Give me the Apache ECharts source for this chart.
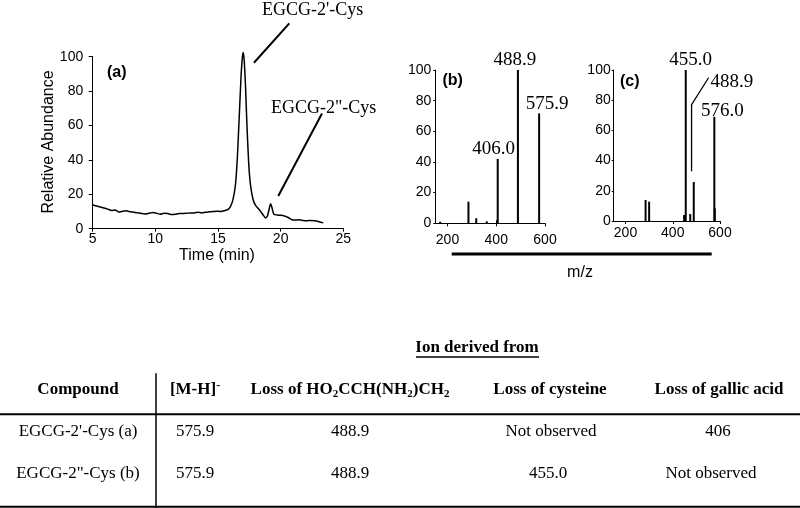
<!DOCTYPE html>
<html><head><meta charset="utf-8">
<script src="https://cdn.jsdelivr.net/npm/echarts@6/dist/echarts.min.js"></script>
<style>html,body{margin:0;padding:0;background:#fff}#c{width:800px;height:508px}</style>
</head><body><div id="c"></div>
<script>
// ---- Data ----
const chromTime  = [5.0,5.3,5.6,5.9,6.2,6.5,6.8,7.1,7.4,7.7,8.0,8.3,8.6,8.9,9.2,9.5,9.8,10.1,10.4,10.7,11.0,11.3,11.6,11.9,12.2,12.5,12.8,13.1,13.4,13.7,14.0,14.3,14.6,14.9,15.2,15.5,15.8,16.0,16.2,16.4,16.55,16.7,16.85,16.95,17.02,17.1,17.2,17.3,17.45,17.6,17.8,18.0,18.3,18.6,18.8,18.95,19.1,19.2,19.3,19.45,19.7,20.0,20.3,20.6,20.9,21.2,21.5,21.8,22.1,22.4,22.7,23.0,23.4];
const chromAbund = [13.8,13.2,12.6,12.0,11.4,10.6,10.8,9.6,10.2,10.4,9.8,9.6,9.2,8.8,8.6,9.0,9.4,9.0,8.4,9.0,8.8,8.2,8.4,8.8,8.8,9.0,9.2,9.2,9.6,9.2,9.6,9.8,10.0,10.2,10.0,10.4,11.2,13.0,17.0,26.0,42.0,66.0,90.0,100.0,102.5,97.0,82.0,62.0,38.0,25.0,17.0,13.5,11.0,8.0,6.2,7.5,12.0,14.5,12.5,8.5,8.0,7.8,7.4,6.5,5.2,5.0,5.2,4.8,4.6,4.8,4.6,4.2,3.4];

const specB_mz  = [170, 286, 318, 361, 403, 406.0, 488.9, 575.9];
const specB_int = [1, 14.1, 3.3, 1.3, 2, 42, 100, 71.7];
const specB_lab = ['', '', '', '', '', '406.0', '488.9', '575.9'];

const specC_mz  = [285, 300, 448, 455.0, 474, 488.9, 576.0, 578];
const specC_int = [13.9, 12.8, 4, 100, 4.6, 25.8, 69, 8.4];
const specC_lab = ['', '', '', '455.0', '', '', '576.0', ''];
const specC_leaderLabel = '488.9';

const mzTicks = [200, 400, 600];

const tableTitle = 'Ion derived from';
const tableHeaders = ['Compound', '[M-H]{sup|-}', 'Loss of HO{sub|2}CCH(NH{sub|2})CH{sub|2}', 'Loss of cysteine', 'Loss of gallic acid'];
const tableRows = [
  ["EGCG-2'-Cys (a)", '575.9', '488.9', 'Not observed', '406'],
  ['EGCG-2"-Cys (b)', '575.9', '488.9', '455.0', 'Not observed']
];

// ---- Styling ----
const sans = 'Liberation Sans', serif = 'Liberation Serif';
const labelOffsetB = {'406.0': [-4, 0, 0], '488.9': [-3, 0, 0], '575.9': [8, 0, 0]};
const labelOffsetC = {'455.0': [5, 0, 0], '576.0': [8, 0, -4]};

function axisBase(extra) {
  const base = {
    type: 'value',
    axisLine: {show: true, onZero: false, lineStyle: {color: '#000', width: 1}},
    axisTick: {show: true, lineStyle: {color: '#000', width: 1}},
    splitLine: {show: false},
    axisLabel: {color: '#000', fontFamily: sans, fontSize: 14}
  };
  for (const k in extra) {
    if (typeof extra[k] === 'object' && base[k]) base[k] = Object.assign({}, base[k], extra[k]);
    else base[k] = extra[k];
  }
  return base;
}

function barData(mz, inten, labs, offs) {
  return mz.map((m, i) => {
    const item = {value: [m, inten[i]]};
    if (labs[i]) {
      const o = offs[labs[i]] || [0, 0, 0];
      item.label = {show: true, position: 'top', formatter: labs[i], distance: o[2],
        offset: [o[0], o[1]], fontFamily: serif, fontSize: 19, color: '#000'};
    }
    return item;
  });
}

const chart = echarts.init(document.getElementById('c'), null, {renderer: 'canvas'});

const option = {
  backgroundColor: '#fff',
  animation: false,
  grid: [
    {left: 92.7, top: 56.7, width: 250.6, height: 172},
    {left: 435.3, top: 70, width: 109.7, height: 153.3},
    {left: 613.7, top: 70, width: 106.3, height: 151}
  ],
  xAxis: [
    axisBase({gridIndex: 0, min: 5, max: 25, interval: 5, axisTick: {length: 3}, axisLabel: {margin: 3}}),
    axisBase({gridIndex: 1, min: 150, max: 600, axisTick: {customValues: mzTicks, length: 3}, axisLabel: {customValues: mzTicks, margin: 10}}),
    axisBase({gridIndex: 2, min: 150, max: 600, axisTick: {customValues: mzTicks, length: 3}, axisLabel: {customValues: mzTicks, margin: 5}})
  ],
  yAxis: [
    axisBase({gridIndex: 0, min: 0, max: 100, interval: 20, axisTick: {length: 4}, axisLabel: {margin: 9.5}}),
    axisBase({gridIndex: 1, min: 0, max: 100, interval: 20, axisTick: {length: 2}, axisLabel: {margin: 4}}),
    axisBase({gridIndex: 2, min: 0, max: 100, interval: 20, axisTick: {length: 2}, axisLabel: {margin: 3}})
  ],
  series: [
    {type: 'line', xAxisIndex: 0, yAxisIndex: 0, data: chromTime.map((t, i) => [t, chromAbund[i]]),
      showSymbol: false, symbol: 'none', clip: false, smooth: 0.2,
      lineStyle: {color: '#000', width: 1.5}},
    {type: 'bar', xAxisIndex: 1, yAxisIndex: 1, barWidth: 2, itemStyle: {color: '#000'},
      data: barData(specB_mz, specB_int, specB_lab, labelOffsetB)},
    {type: 'bar', xAxisIndex: 2, yAxisIndex: 2, barWidth: 2, itemStyle: {color: '#000'},
      data: barData(specC_mz, specC_int, specC_lab, labelOffsetC)}
  ]
};
chart.setOption(option);

function txt(x, y, text, font, align, extra) {
  const el = {type: 'text', x: x, y: y, silent: true,
    style: Object.assign({text: text, font: font, fill: '#000',
      textAlign: align || 'center', textVerticalAlign: 'middle',
      align: align || 'center', verticalAlign: 'middle'}, extra || {})};
  return el;
}
function line(x1, y1, x2, y2, w) {
  return {type: 'line', silent: true, shape: {x1, y1, x2, y2}, style: {stroke: '#000', lineWidth: w || 1.5}};
}

const g = [];
// Panel labels
g.push(txt(107, 72.5, '(a)', 'bold 16px ' + sans, 'left'));
g.push(txt(442.5, 81, '(b)', 'bold 16px ' + sans, 'left'));
g.push(txt(620, 82, '(c)', 'bold 16px ' + sans, 'left'));
// Axis titles
g.push(Object.assign(txt(49, 142, 'Relative Abundance', '16px ' + sans, 'center'), {rotation: Math.PI / 2}));
g.push(txt(217, 256, 'Time (min)', '16px ' + sans, 'center'));
g.push(txt(580, 273, 'm/z', '16px ' + sans, 'center'));
g.push(line(451.7, 254, 711.7, 254, 3));

// Peak annotations in (a)
const p = (gi, v) => chart.convertToPixel({gridIndex: gi}, v);
let a1 = p(0, [17.87, 96.5]), a2 = p(0, [20.69, 119.4]);
g.push(line(a1[0], a1[1], a2[0], a2[1], 2));
g.push(txt(262, 10, "EGCG-2'-Cys", '18px ' + serif, 'left'));
let b1 = p(0, [19.81, 19]), b2 = p(0, [23.3, 67]);
g.push(line(b1[0], b1[1], b2[0], b2[1], 2));
g.push(txt(271, 108, 'EGCG-2"-Cys', '18px ' + serif, 'left'));

// Leader line for 488.9 in (c)
const c0 = p(2, [488.9, 33]), c1 = p(2, [488.9, 77]);
const cx = c0[0] - 2.2;
g.push({type: 'polyline', silent: true, shape: {points: [[cx, c0[1]], [cx, c1[1]], [cx + 17, c1[1] - 27]]},
  style: {stroke: '#000', lineWidth: 1.3, fill: null}});
g.push(txt(cx + 19, 82.5, specC_leaderLabel, '19px ' + serif, 'left'));

// Table
const colX = [78, 195, 350, 550, 719];
const rowY = [431.7, 473.3];
const rowColX = [[78, 195, 350, 551, 718], [78, 195, 350, 548, 711]];
g.push(txt(477, 348, tableTitle, 'bold 17px ' + serif, 'center'));
g.push(line(416, 357, 539, 357, 1.5));
const rich = {
  sub: {fontSize: 11, fontWeight: 'bold', fontFamily: serif, lineHeight: 10, verticalAlign: 'bottom'},
  sup: {fontSize: 12, fontWeight: 'bold', fontFamily: serif, lineHeight: 10, verticalAlign: 'top'}
};
tableHeaders.forEach((h, i) => {
  g.push(txt(colX[i], 390, h, 'bold 17px ' + serif, 'center', {rich: rich, lineHeight: 20}));
});
g.push(line(0, 414.3, 800, 414.3, 2));
tableRows.forEach((r, ri) => {
  r.forEach((c, ci) => g.push(txt(rowColX[ri][ci], rowY[ri], c, '17px ' + serif, 'center')));
});
g.push(line(0, 506.8, 800, 506.8, 2));
g.push(line(156, 373.3, 156, 508, 1.5));

chart.setOption({graphic: {elements: g}});
</script></body></html>
